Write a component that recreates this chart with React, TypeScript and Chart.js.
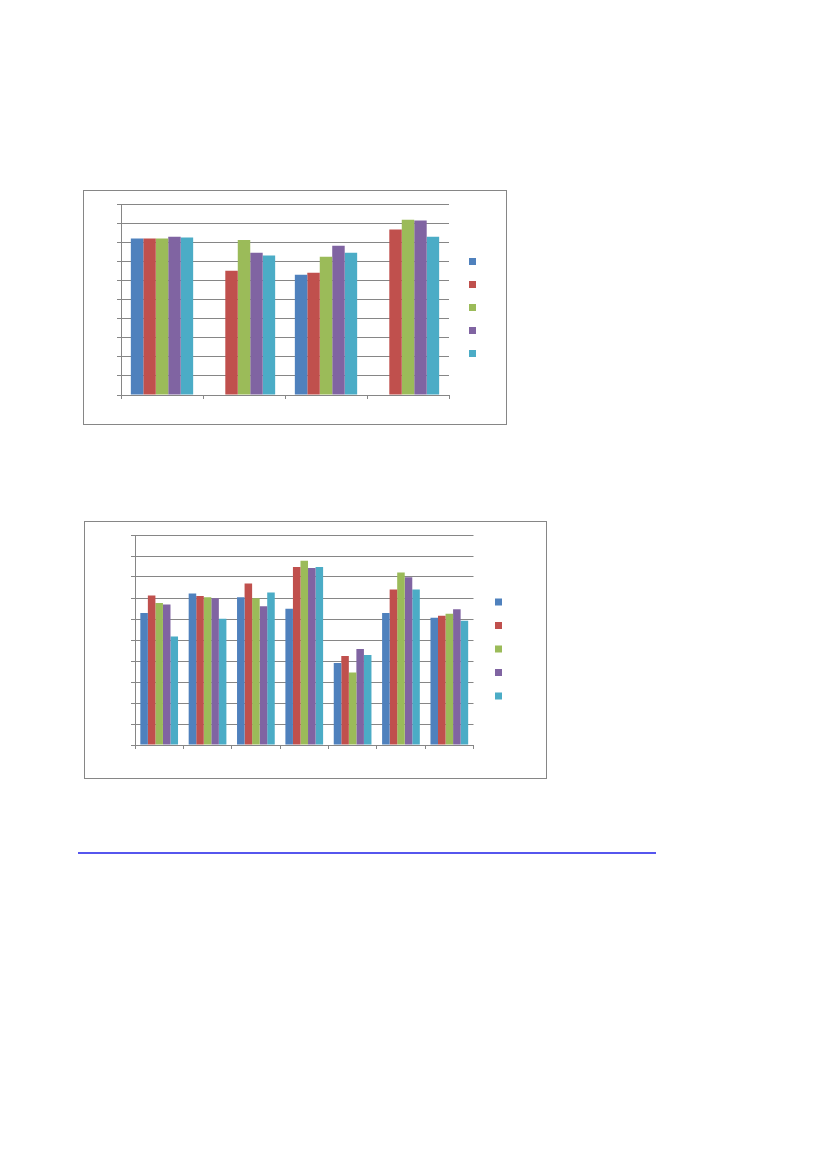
import { useEffect, useRef } from "react"
import Chart from "chart.js/auto"

// Excel 2007 default palette
const seriesColors = ["#4F81BD", "#C0504D", "#9BBB59", "#8064A2", "#4BACC6"]
const gridColor = "#868686"

// y axis: 0..100, ten steps (no labels shown in the picture)
const yMin = 0
const yMax = 100
const yStep = 10

// top chart: 4 groups, first and last-but-one group miss the blue bar
const topCategories = ["1", "2", "3", "4"]
const topSeriesA = [81.9, null, 63.0, null]
const topSeriesB = [81.9, 65.1, 64.0, 86.6]
const topSeriesC = [81.9, 81.2, 72.4, 91.8]
const topSeriesD = [82.9, 74.5, 78.2, 91.3]
const topSeriesE = [82.4, 73.0, 74.5, 82.9]

// bottom chart: 7 groups
const bottomCategories = ["1", "2", "3", "4", "5", "6", "7"]
const bottomSeriesA = [62.8, 72.2, 70.4, 64.9, 39.1, 62.8, 60.6]
const bottomSeriesB = [71.2, 70.9, 76.9, 84.8, 42.4, 74.1, 61.6]
const bottomSeriesC = [67.6, 70.4, 69.9, 87.7, 34.5, 82.1, 62.5]
const bottomSeriesD = [66.9, 69.9, 66.1, 84.3, 45.7, 79.9, 64.7]
const bottomSeriesE = [51.7, 60.1, 72.6, 84.8, 42.9, 74.1, 59.2]

type Box = {
  left: number
  top: number
  width: number
  height: number
  padding: { left: number, top: number, right: number, bottom: number }
  xAxisHeight: number
  rightGap: number
  legendPadding: number
  categoryPercentage: number
}

type BarChartProps = {
  categories: string[]
  series: Array<Array<number | null>>
  box: Box
}

const BarChart = ({ categories, series, box }: BarChartProps) => {
  const chartRef = useRef<HTMLCanvasElement>(null)
  const chartInstance = useRef<Chart | null>(null)

  useEffect(() => {
    if (chartRef.current) {
      const ctx = chartRef.current.getContext("2d")

      if (ctx) {
        if (chartInstance.current) {
          chartInstance.current.destroy()
        }

        chartInstance.current = new Chart(ctx, {
          type: "bar",
          data: {
            labels: categories,
            datasets: series.map((values, i) => ({
              label: "",
              data: values,
              backgroundColor: seriesColors[i],
              borderWidth: 0,
              categoryPercentage: box.categoryPercentage,
              barPercentage: 1
            }))
          },
          options: {
            responsive: true,
            maintainAspectRatio: false,
            animation: false,
            events: [],
            layout: { padding: box.padding },
            scales: {
              x: {
                grid: {
                  offset: true,
                  drawOnChartArea: false,
                  drawTicks: true,
                  tickLength: 4,
                  color: gridColor
                },
                border: { display: true, color: gridColor },
                ticks: { display: false },
                afterFit: (scale) => { scale.height = box.xAxisHeight }
              },
              y: {
                min: yMin,
                max: yMax,
                grid: {
                  color: gridColor,
                  drawTicks: true,
                  tickLength: 4
                },
                border: { display: true, color: gridColor },
                ticks: { display: false, stepSize: yStep },
                afterFit: (scale) => { scale.width = 4 }
              },
              gap: {
                type: "linear",
                position: "right",
                display: true,
                grid: { display: false },
                border: { display: false },
                ticks: { display: false },
                afterFit: (scale) => { scale.width = box.rightGap }
              }
            },
            plugins: {
              legend: {
                display: true,
                position: "right",
                labels: {
                  boxWidth: 7,
                  boxHeight: 7,
                  padding: box.legendPadding,
                  font: { size: 4 }
                }
              },
              tooltip: { enabled: false }
            }
          }
        })
      }
    }

    return () => {
      if (chartInstance.current) {
        chartInstance.current.destroy()
      }
    }
  }, [categories, series, box])

  return (
    <div
      style={{
        position: "absolute",
        left: box.left,
        top: box.top,
        width: box.width,
        height: box.height,
        border: `1px solid ${gridColor}`,
        boxSizing: "border-box",
        background: "#fff"
      }}
    >
      <div style={{ position: "relative", width: box.width - 2, height: box.height - 2 }}>
        <canvas ref={chartRef}></canvas>
      </div>
    </div>
  )
}

const topBox: Box = {
  left: 83,
  top: 190,
  width: 424,
  height: 235,
  padding: { left: 33, top: 13, right: 18, bottom: 13 },
  xAxisHeight: 16,
  rightGap: 4,
  legendPadding: 16,
  categoryPercentage: 0.76
}

const bottomBox: Box = {
  left: 84,
  top: 521,
  width: 463,
  height: 258,
  padding: { left: 46, top: 13, right: 32, bottom: 15 },
  xAxisHeight: 18,
  rightGap: 5,
  legendPadding: 16.5,
  categoryPercentage: 0.78
}

const topSeries = [topSeriesA, topSeriesB, topSeriesC, topSeriesD, topSeriesE]
const bottomSeries = [bottomSeriesA, bottomSeriesB, bottomSeriesC, bottomSeriesD, bottomSeriesE]

export default function App() {
  return (
    <div>
      <BarChart categories={topCategories} series={topSeries} box={topBox} />
      <BarChart categories={bottomCategories} series={bottomSeries} box={bottomBox} />
      <div
        style={{
          position: "absolute",
          left: 78,
          top: 852,
          width: 578,
          height: 2,
          background: "#5656EE"
        }}
      ></div>
    </div>
  )
}
